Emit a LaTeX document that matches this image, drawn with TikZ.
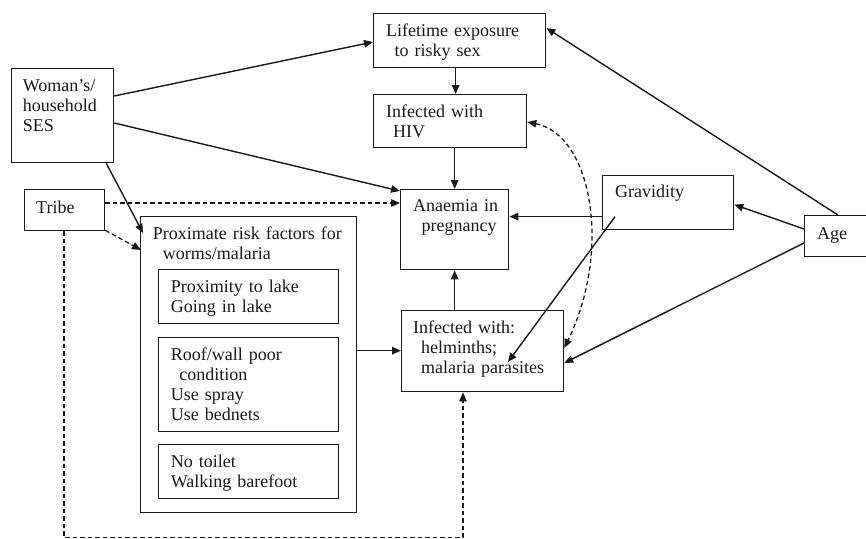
\documentclass[tikz,border=0pt]{standalone}
\usepackage{fontspec}
\setmainfont{Liberation Serif}
\usetikzlibrary{arrows.meta}
\definecolor{ink}{HTML}{1A1A1A}
\begin{document}
\begin{tikzpicture}[x=1pt,y=-1pt,
  box/.style={draw=ink, line width=1.3pt, inner sep=0pt, anchor=north west},
  txt/.style={anchor=base west, inner sep=0pt, align=left, text width=260pt, text=ink,
    font=\fontsize{18}{20}\selectfont},
  tip/.tip={Triangle[length=9pt,width=7.5pt]},
  arr/.style={draw=ink, line width=1.4pt, -tip},
  darr/.style={arr, line width=1.3pt, dash pattern=on 4.5pt off 3pt}
]
\path[use as bounding box, clip] (0,0) rectangle (866,538);
\fill[white] (0,0) rectangle (866,538);

% boxes
\node[box, minimum width=172pt, minimum height=54pt] (life) at (373,13) {};
\node[box, minimum width=102pt, minimum height=94pt] (woman) at (11,68) {};
\node[box, minimum width=153pt, minimum height=53pt] (hiv) at (373,94) {};
\node[box, minimum width=108pt, minimum height=80pt] (anaemia) at (400,189) {};
\node[box, minimum width=131pt, minimum height=54pt] (grav) at (602,175) {};
\node[box, minimum width=72pt, minimum height=41pt] (age) at (804,215) {};
\node[box, minimum width=80pt, minimum height=41pt] (tribe) at (24,189) {};
\node[box, minimum width=216pt, minimum height=296pt] (prox) at (140,216) {};
\node[box, minimum width=180pt, minimum height=54pt] (in1) at (158,269) {};
\node[box, minimum width=180pt, minimum height=94pt] (in2) at (158,337) {};
\node[box, minimum width=180pt, minimum height=54pt] (in3) at (158,444) {};
\node[box, minimum width=162pt, minimum height=81pt] (inf) at (401,310) {};

% texts
\node[txt] (tlife) at (386,36.7) {Lifetime exposure\\\hspace*{8.5pt}to risky sex};
\node[txt] (twoman) at (22.7,91.7) {Woman’s/\\household\\SES};
\node[txt] (thiv) at (386,117.7) {Infected with\\\hspace*{7pt}HIV};
\node[txt] (tana) at (413,211) {Anaemia in\\\hspace*{8.5pt}pregnancy};
\node[txt] (tgrav) at (615,197) {Gravidity};
\node[txt] (tage) at (817,239) {Age};
\node[txt] (ttribe) at (36,213) {Tribe};
\node[txt] (tprox) at (152.7,239) {Proximate risk factors for\\\hspace*{10pt}worms/malaria};
\node[txt] (tin1) at (170.7,292.7) {Proximity to lake\\Going in lake};
\node[txt] (tin2) at (170.7,360) {Roof/wall poor\\\hspace*{8.5pt}condition\\Use spray\\Use bednets};
\node[txt] (tin3) at (170.7,467) {No toilet\\Walking barefoot};
\node[txt] (tinf) at (413,333) {Infected with:\\\hspace*{8pt}helminths;\\\hspace*{8pt}malaria parasites};

% helper coordinates
\coordinate (lifeS) at ([xshift=-4pt]life.south);
\coordinate (proxE) at ([yshift=14pt]prox.east);
\coordinate (gravW) at ([yshift=-14pt]grav.west);
\coordinate (gravIn) at ([xshift=13pt,yshift=-14pt]grav.west);
\coordinate (infIn) at ([xshift=107pt,yshift=-52pt]inf.north west);
\coordinate (bot) at (463,537.5);

% solid connectors
\draw[arr] ([yshift=-28pt]woman.north east) -- ([yshift=-29pt]life.north west);
\draw[arr] ([yshift=-55pt]woman.north east) -- ([yshift=-2pt]anaemia.north west);
\draw[arr] ([xshift=-8pt]woman.south east) -- ([xshift=3pt,yshift=-17pt]prox.north west);
\draw[arr] (lifeS) -- (lifeS |- hiv.north);
\draw[arr] (anaemia.north |- hiv.south) -- (anaemia.north);
\draw[arr] (anaemia.south |- inf.north) -- (anaemia.south);
\draw[arr] (proxE) -- (proxE -| inf.west);
\draw[arr] (gravW) -- (gravW -| anaemia.east);
\draw[arr] (gravIn) -- (infIn);
\draw[arr] ([yshift=-14pt]age.north west) -- ([yshift=-2pt]grav.east);
\draw[arr] ([xshift=34pt]age.north west) -- ([yshift=-15pt]life.north east);
\draw[arr] ([yshift=-28pt]age.north west) -- ([yshift=-53pt]inf.north east);

% dashed connectors
\draw[darr] ([yshift=-14pt]tribe.north east) -- ([yshift=-14pt]anaemia.north west);
\draw[darr] ([yshift=1pt]tribe.south east) -- ([xshift=1pt,yshift=-34pt]prox.north west);
\draw[darr] ([xshift=40pt]tribe.south west) |- (bot) -- ([xshift=62pt]inf.south west);
\draw[darr, tip-tip]
  ([yshift=-28pt]hiv.north east) .. controls (592,135) and (612,250) .. ([yshift=-38pt]inf.north east);
\end{tikzpicture}
\end{document}
